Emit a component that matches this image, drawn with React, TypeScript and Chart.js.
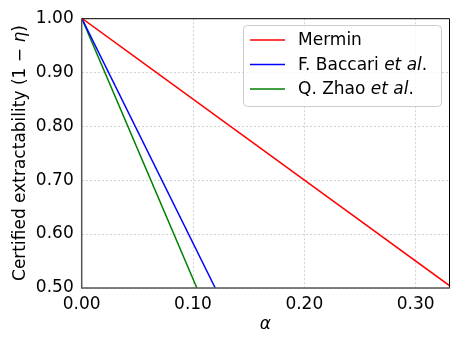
import React, { useEffect, useRef } from "react";
import { Chart, registerables } from "chart.js";

Chart.register(...registerables);

const seriesNames = ["Mermin", "F. Baccari ", "Q. Zhao "];
const seriesColors = ["#ff0000", "#0000ff", "#008000"];
const merminAlpha = [0, 1 / 3];
const merminEta = [1.0, 0.5];
const baccariAlpha = [0, 0.12];
const baccariEta = [1.0, 0.5];
const zhaoAlpha = [0, 0.1035];
const zhaoEta = [1.0, 0.5];
const xTicks = [0, 0.1, 0.2, 0.3];
const yTicks = [0.5, 0.6, 0.7, 0.8, 0.9, 1.0];

const FONT = "'DejaVu Sans', sans-serif";
const FS = 17;

const toPts = (xs: number[], ys: number[]) => xs.map((x, i) => ({ x, y: ys[i] }));

const overlay = {
  id: "overlay",
  afterDraw(chart: any) {
    const { ctx, chartArea } = chart;
    const { left, right, top, bottom } = chartArea;
    ctx.save();
    // spines
    ctx.lineWidth = 1;
    ctx.strokeStyle = "#000";
    ctx.beginPath();
    ctx.moveTo(left, top + 0.5);
    ctx.lineTo(right + 0.5, top + 0.5);
    ctx.lineTo(right + 0.5, bottom);
    ctx.stroke();
    ctx.lineWidth = 1.5;
    ctx.strokeStyle = "#555";
    ctx.beginPath();
    ctx.moveTo(left, top);
    ctx.lineTo(left, bottom);
    ctx.lineTo(right + 1, bottom);
    ctx.stroke();

    // y title
    ctx.fillStyle = "#000";
    ctx.textBaseline = "middle";
    ctx.textAlign = "left";
    const segs: [string, boolean][] = [["Certified extractability (1 \u2212 ", false], ["\u03b7", true], [")", false]];
    const fontOf = (it: boolean) => `${it ? "italic " : ""}${FS}px ${FONT}`;
    let total = 0;
    for (const [t, it] of segs) { ctx.font = fontOf(it); total += ctx.measureText(t).width; }
    ctx.save();
    ctx.translate(21, (top + bottom) / 2);
    ctx.rotate(-Math.PI / 2);
    let cx = -total / 2;
    for (const [t, it] of segs) { ctx.font = fontOf(it); ctx.fillText(t, cx, 0); cx += ctx.measureText(t).width; }
    ctx.restore();

    // x title
    ctx.font = fontOf(true);
    ctx.textAlign = "center";
    ctx.fillText("\u03b1", (left + right) / 2, 325);

    // legend
    const bx = 243, by = 25, bw = 198, bh = 81;
    ctx.beginPath();
    ctx.roundRect(bx + 0.5, by + 0.5, bw, bh, 4);
    ctx.fillStyle = "rgba(255,255,255,0.8)";
    ctx.fill();
    ctx.strokeStyle = "#cccccc";
    ctx.lineWidth = 1;
    ctx.stroke();
    ctx.textAlign = "left";
    seriesNames.forEach((name, i) => {
      const y = by + 15 + i * 24.5;
      ctx.strokeStyle = seriesColors[i];
      ctx.lineWidth = 1.5;
      ctx.beginPath();
      ctx.moveTo(250, y);
      ctx.lineTo(285, y);
      ctx.stroke();
      ctx.fillStyle = "#000";
      ctx.font = fontOf(false);
      ctx.fillText(name, 298, y + 1);
      if (i > 0) {
        const w = ctx.measureText(name).width;
        ctx.font = fontOf(true);
        ctx.fillText("et al", 298 + w, y + 1);
        const w2 = ctx.measureText("et al").width;
        ctx.font = fontOf(false);
        ctx.fillText(".", 298 + w + w2, y + 1);
      }
    });
    ctx.restore();
  },
};

export default function App() {
  const ref = useRef<HTMLCanvasElement>(null);
  useEffect(() => {
    const ds = [toPts(merminAlpha, merminEta), toPts(baccariAlpha, baccariEta), toPts(zhaoAlpha, zhaoEta)];
    const chart = new Chart(ref.current!, {
      type: "line",
      data: {
        datasets: ds.map((d, i) => ({
          label: seriesNames[i],
          data: d,
          borderColor: seriesColors[i],
          borderWidth: 1.5,
          pointRadius: 0,
          fill: false,
          tension: 0,
        })),
      },
      options: {
        animation: false,
        responsive: false,
        maintainAspectRatio: false,
        layout: { padding: { left: 0, top: 17, right: 11, bottom: 0 } },
        plugins: { legend: { display: false }, tooltip: { enabled: false } },
        scales: {
          x: {
            type: "linear",
            min: 0,
            max: 0.33,
            afterBuildTicks: (s: any) => { s.ticks = xTicks.map((v) => ({ value: v })); },
            afterFit: (s: any) => { s.height = 57; },
            grid: { color: "#c8c8c8", lineWidth: 0.8, drawTicks: false },
            border: { display: false, dash: [2, 2] },
            ticks: {
              color: "#000",
              font: { family: FONT, size: FS },
              padding: 6,
              maxRotation: 0,
              callback: (v: any) => Number(v).toFixed(2),
            },
          },
          y: {
            type: "linear",
            min: 0.5,
            max: 1.0,
            afterBuildTicks: (s: any) => { s.ticks = yTicks.map((v) => ({ value: v })); },
            afterFit: (s: any) => { s.width = 81.7; },
            grid: { color: "#c8c8c8", lineWidth: 0.8, drawTicks: false },
            border: { display: false, dash: [2, 2] },
            ticks: {
              color: "#000",
              font: { family: FONT, size: FS },
              padding: 8,
              callback: (v: any) => Number(v).toFixed(2),
            },
          },
        },
      },
      plugins: [overlay],
    });
    return () => chart.destroy();
  }, []);
  return (
    <div style={{ position: "fixed", left: 0, top: 0, width: 460, height: 345, background: "#fff" }}>
      <canvas ref={ref} width={460} height={345} style={{ width: 460, height: 345 }} />
    </div>
  );
}
